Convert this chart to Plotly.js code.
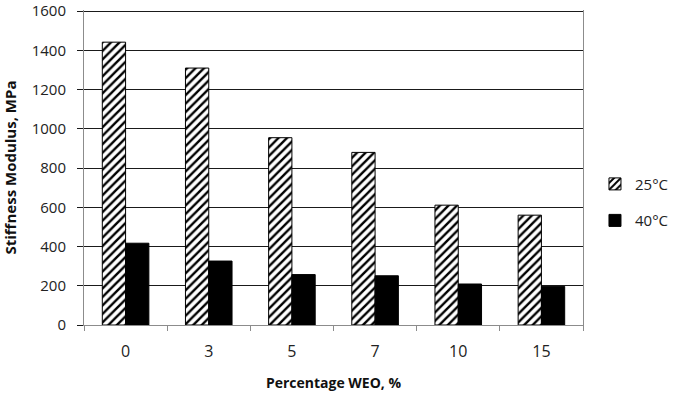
<!DOCTYPE html>
<html>
<head>
<meta charset="utf-8">
<script src="https://cdn.plot.ly/plotly-3.0.1.min.js"></script>
<style>
  html, body { margin: 0; padding: 0; background: #fff; }
  #chart { width: 675px; height: 396px; }
</style>
</head>
<body>
<div id="chart"></div>
<script>
// WEO content (%) and stiffness modulus (MPa) at two test temperatures
const weoPercent = ['0', '3', '5', '7', '10', '15'];
const stiffness25C = [1442, 1310, 955, 880, 611, 560];
const stiffness40C = [417, 326, 257, 251, 209, 197];
const seriesNames = ['25\u00B0C', '40\u00B0C'];
const yTicks = [0, 200, 400, 600, 800, 1000, 1200, 1400, 1600];

const fontFamily = '"Open Sans", "DejaVu Sans", sans-serif';

const traces = [
  {
    type: 'bar',
    name: seriesNames[0],
    legendgroup: 'a',
    x: weoPercent,
    y: stiffness25C,
    marker: {
      color: '#ffffff',
      line: { color: '#000000', width: 1 },
      pattern: { shape: '/', fgcolor: '#000000', bgcolor: '#ffffff', size: 6, solidity: 0.4 }
    }
  },
  {
    type: 'bar',
    name: seriesNames[1],
    legendgroup: 'b',
    x: weoPercent,
    y: stiffness40C,
    marker: {
      color: '#000000',
      line: { color: '#000000', width: 1 }
    }
  }
];

const layout = {
  width: 675,
  height: 396,
  margin: { l: 84, r: 92, t: 10, b: 71, autoexpand: false },
  paper_bgcolor: '#ffffff',
  plot_bgcolor: '#ffffff',
  barmode: 'group',
  bargap: 0.44,
  bargroupgap: 0,
  font: { family: fontFamily, size: 16, color: '#222' },
  showlegend: true,
  legend: {
    x: 1.024, xanchor: 'left',
    y: 0.39, yanchor: 'middle',
    traceorder: 'grouped',
    tracegroupgap: 14,
    font: { family: fontFamily, size: 15, color: '#222' },
    itemwidth: 30
  },
  xaxis: {
    type: 'category',
    showgrid: false,
    showline: true,
    linecolor: '#8c8c8c',
    linewidth: 1,
    ticks: 'outside',
    tickson: 'boundaries',
    ticklen: 5,
    tickcolor: '#8c8c8c',
    ticklabelstandoff: 12,
    tickfont: { family: fontFamily, size: 16, color: '#222' },
    title: {
      text: 'Percentage WEO, %',
      font: { family: fontFamily, size: 14, color: '#111', weight: 'bold' },
      standoff: 16
    }
  },
  yaxis: {
    range: [0, 1606],
    tickmode: 'array',
    tickvals: yTicks,
    showgrid: true,
    gridcolor: '#1a1a1a',
    gridwidth: 1,
    zeroline: false,
    showline: true,
    mirror: true,
    linecolor: '#8c8c8c',
    linewidth: 1,
    ticks: 'outside',
    ticklen: 6,
    tickcolor: '#1a1a1a',
    ticklabelstandoff: 8,
    ticklabeloverflow: 'allow',
    tickfont: { family: fontFamily, size: 15, color: '#222' },
    title: {
      text: 'Stiffness Modulus, MPa',
      font: { family: fontFamily, size: 15, color: '#111', weight: 'bold' },
      standoff: 12
    }
  }
};

Plotly.newPlot('chart', traces, layout, { displayModeBar: false, staticPlot: true });
</script>
</body>
</html>
